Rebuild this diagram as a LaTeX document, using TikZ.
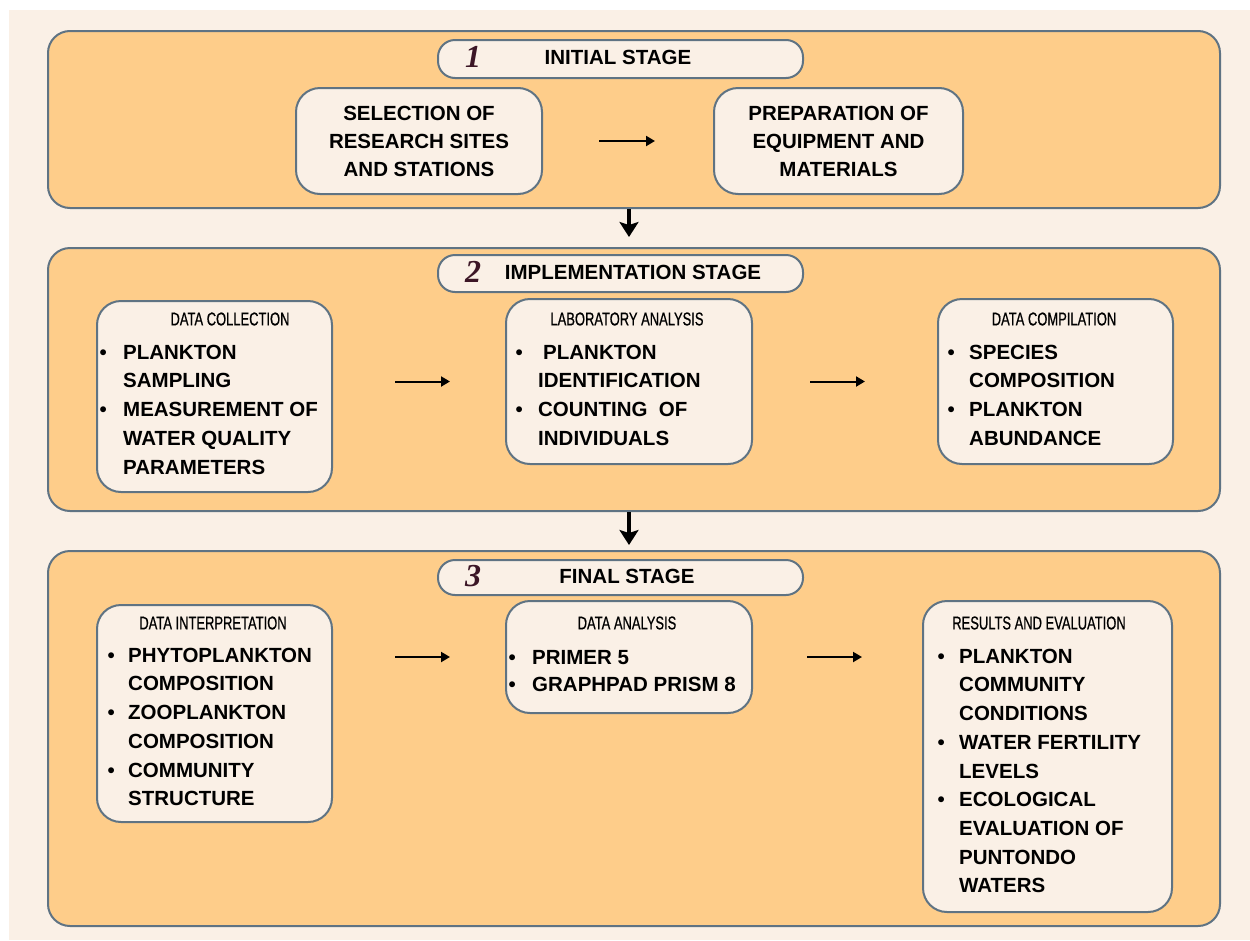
\documentclass[tikz,border=0pt]{standalone}
\usepackage{fontspec}
\setmainfont{Liberation Sans}
\newfontfamily\condfont[FakeStretch=0.7,FakeBold=0.6]{Liberation Sans}
\newfontfamily\digitfont{Liberation Serif}
\usetikzlibrary{arrows.meta}
\definecolor{bgcream}{RGB}{250,240,230}
\definecolor{stageorange}{RGB}{254,205,138}
\definecolor{edgeslate}{RGB}{95,115,131}
\definecolor{digitdark}{RGB}{60,22,38}
\newcommand{\bul}[1]{\makebox[#1][l]{\textbullet}}
\newcommand{\ind}[1]{\hspace*{#1}}
\tikzset{
  stagebox/.style={draw=edgeslate, line width=2pt, fill=stageorange, rounded corners=22pt, inner sep=0pt, anchor=north west},
  pillbox/.style={draw=edgeslate, line width=2pt, fill=bgcream, rounded corners=17pt, inner sep=0pt, anchor=north west},
  itembox/.style={draw=edgeslate, line width=2pt, fill=bgcream, rounded corners=24pt, inner sep=0pt, anchor=north west},
  headtext/.style={font=\fontsize{20.5}{24}\selectfont\bfseries, inner sep=0pt},
  digittext/.style={font=\fontsize{32}{34}\selectfont\digitfont\bfseries\itshape, text=digitdark, inner sep=0pt},
  titletext/.style={font=\fontsize{18.5}{20}\selectfont\condfont, inner sep=0pt},
  bodytext/.style={font=\fontsize{20.5}{28.7}\selectfont\bfseries, align=left, inner sep=0pt, anchor=north west},
  centertext/.style={font=\fontsize{20.5}{28}\selectfont\bfseries, align=center, inner sep=0pt},
  flowarrow/.style={line width=2pt, -{Triangle[length=9pt,width=10pt]}},
  downarrow/.style={line width=3.5pt, -{Stealth[length=15pt,width=19pt,inset=3pt]}},
}
\begin{document}
\begin{tikzpicture}[x=1pt,y=-1pt]
\useasboundingbox (0,0) rectangle (1250,940);
\fill[white] (0,0) rectangle (1250,940);
\fill[bgcream] (9,10) rectangle (1250,940);

% Stage 1
\node[stagebox, minimum width=1172pt, minimum height=177pt] (s1) at (47,30) {};
\node[pillbox, minimum width=365pt, minimum height=38pt] (p1) at (437,39) {};
\node[digittext] (n1) at (473,57) {1};
\node[headtext] (h1) at (618,57) {INITIAL STAGE};
\node[itembox, minimum width=246pt, minimum height=106pt] (sel) at (295,87) {};
\node[centertext] (selt) at (sel.center) {SELECTION OF\\RESEARCH SITES\\AND STATIONS};
\node[itembox, minimum width=249pt, minimum height=106pt] (prep) at (713,87) {};
\node[centertext] (prept) at (prep.center) {PREPARATION OF\\EQUIPMENT AND\\MATERIALS};
\draw[flowarrow, shorten <=56pt, shorten >=58pt] (sel.east) -- (prep.west);

% Stage 2
\node[stagebox, minimum width=1172pt, minimum height=263pt] (s2) at (47,247) {};
\node[pillbox, minimum width=365pt, minimum height=37pt] (p2) at (437,254) {};
\node[digittext] (n2) at (473,272) {2};
\node[headtext] (h2) at (633,272) {IMPLEMENTATION STAGE};

\node[itembox, minimum width=235pt, minimum height=191pt] (dc) at (96,300) {};
\node[titletext] (dct) at (230,319) {DATA COLLECTION};
\node[bodytext] (dcb) at (99.4,344.7) {\bul{23.6pt}PLANKTON\\\ind{23.6pt}SAMPLING\\\bul{23.6pt}MEASUREMENT OF\\\ind{23.6pt}WATER QUALITY\\\ind{23.6pt}PARAMETERS};

\node[itembox, minimum width=246pt, minimum height=165pt] (la) at (505,298) {};
\node[titletext] (lat) at (627,319) {LABORATORY ANALYSIS};
\node[bodytext] (lab) at (515.4,344.7) {\bul{22.6pt}\hspace{5pt}PLANKTON\\\ind{22.6pt}IDENTIFICATION\\\bul{22.6pt}COUNTING\ \ OF\\\ind{22.6pt}INDIVIDUALS};

\node[itembox, minimum width=235pt, minimum height=165pt] (cp) at (937,298) {};
\node[titletext] (cpt) at (1054,319) {DATA COMPILATION};
\node[bodytext] (cpb) at (947.4,344.7) {\bul{21.6pt}SPECIES\\\ind{21.6pt}COMPOSITION\\\bul{21.6pt}PLANKTON\\\ind{21.6pt}ABUNDANCE};

\draw[flowarrow, shorten <=62pt, shorten >=55pt] (dc.east |- la.west) -- (la.west);
\draw[flowarrow, shorten <=57pt, shorten >=72pt] (la.east) -- (cp.west |- la.east);

% Stage 3
\node[stagebox, minimum width=1172pt, minimum height=375pt] (s3) at (47,550) {};
\node[pillbox, minimum width=365pt, minimum height=35pt] (p3) at (437,559) {};
\node[digittext] (n3) at (473,576) {3};
\node[headtext] (h3) at (627,576) {FINAL STAGE};

\node[itembox, minimum width=235pt, minimum height=217pt] (di) at (96,604) {};
\node[titletext] (dit) at (213,623) {DATA INTERPRETATION};
\node[bodytext] (dib) at (107.4,647.7) {\bul{20.6pt}PHYTOPLANKTON\\\ind{20.6pt}COMPOSITION\\\bul{20.6pt}ZOOPLANKTON\\\ind{20.6pt}COMPOSITION\\\bul{20.6pt}COMMUNITY\\\ind{20.6pt}STRUCTURE};

\node[itembox, minimum width=246pt, minimum height=112pt] (da) at (505,600) {};
\node[titletext] (dat) at (627,623) {DATA ANALYSIS};
\node[bodytext, font=\fontsize{20.5}{27.5}\selectfont\bfseries] (dab) at (508.4,649.7) {\bul{23.6pt}PRIMER 5\\\bul{23.6pt}GRAPHPAD PRISM 8};

\node[itembox, minimum width=249pt, minimum height=311pt] (re) at (922,600) {};
\node[titletext] (ret) at (1039,623) {RESULTS AND EVALUATION};
\node[bodytext] (reb) at (937.4,648.7) {\bul{21.6pt}PLANKTON\\\ind{21.6pt}COMMUNITY\\\ind{21.6pt}CONDITIONS\\\bul{21.6pt}WATER FERTILITY\\\ind{21.6pt}LEVELS\\\bul{21.6pt}ECOLOGICAL\\\ind{21.6pt}EVALUATION OF\\\ind{21.6pt}PUNTONDO\\\ind{21.6pt}WATERS};

\draw[flowarrow, shorten <=62pt, shorten >=55pt] (di.east |- da.west) -- (da.west);
\draw[flowarrow, shorten <=54pt, shorten >=60pt] (da.east) -- (re.west |- da.east);

% Stage connectors
\draw[downarrow, shorten >=10pt] ([xshift=-5pt]s1.south) -- ([xshift=-5pt]s2.north);
\draw[downarrow, shorten >=5pt] ([xshift=-5pt]s2.south) -- ([xshift=-5pt]s3.north);
\end{tikzpicture}
\end{document}
